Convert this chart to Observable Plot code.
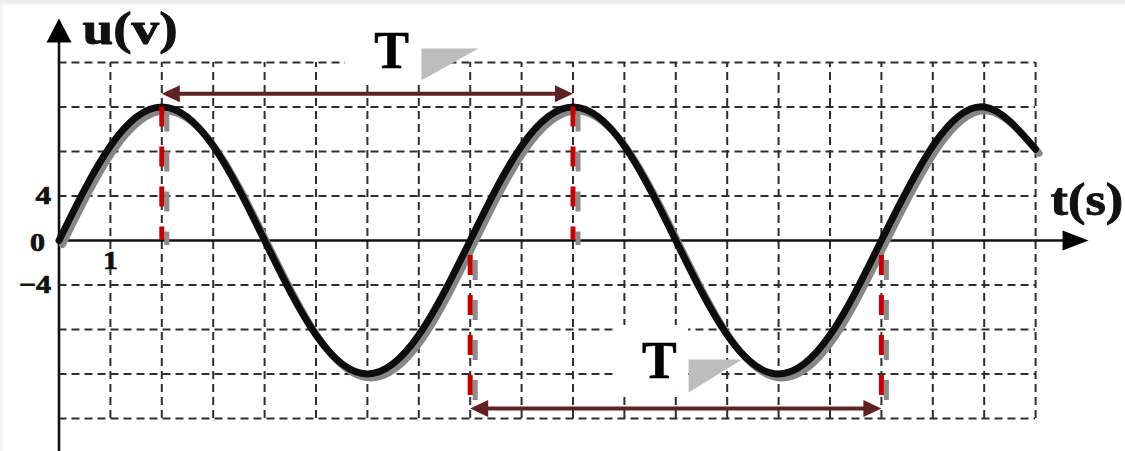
<!DOCTYPE html>
<html>
<head>
<meta charset="utf-8">
<script src="https://cdn.jsdelivr.net/npm/d3@7"></script>
<script src="https://cdn.jsdelivr.net/npm/@observablehq/plot@0.6"></script>
<style>
  html, body { margin: 0; padding: 0; background: #fff; }
  #chart svg { display: block; box-shadow: inset 0 6px 3px -2px #ececec, inset 5px 0 4px -3px #efefef; }
</style>
</head>
<body>
<div id="chart"></div>
<script>
// ---- data ----
const tSamples = [0, 1, 2, 3, 4, 5, 6, 7, 8, 9, 10, 11, 12, 13, 14, 15, 16, 17, 18, 19];
const uSamples = [0, 8.5, 12, 8.5, 0, -8.5, -12, -8.5, 0, 8.5, 12, 8.5, 0, -8.5, -12, -8.5, 0, 8.5, 12, 8.2];

const gridT = [1, 2, 3, 4, 5, 6, 7, 8, 9, 10, 11, 12, 13, 14, 15, 16, 17, 18, 19];
const gridU = [-16, -12, -8, -4, 4, 8, 12, 16];

const yTickValues = [4, -4];
const yTickLabels = ["4", "\u22124"];
const zeroLabel = ["0"];
const xTickValues = [1];
const xTickLabels = ["1"];

// period markers
const periodStart = [2, 8];
const periodEnd = [10, 16];
const periodArrowU = [13.2, -15.1];
const periodLabels = ["T", "T"];
const periodLabelT = [6.47, 11.68];
const periodLabelU = [15.55, -12.4];

// red guide lines
const guideT = [2, 10, 8, 16];
const guideFrom = [12, 12, -1.35, -1.35];
const guideTo = [0, 0, -15.1, -15.1];

// white label boxes and grey callout triangles
const boxT1 = [5.57, 10.79];
const boxT2 = [7.05, 12.25];
const boxU1 = [18.9, -7.64];
const boxU2 = [14.38, -13.66];
const triT = [[7.05, 8.16, 7.05], [12.25, 13.29, 12.25]];
const triU = [[17.26, 17.26, 14.38], [-10.7, -10.7, -13.66]];

// axes extents
const axisTEnd = 20.03;
const axisUTop = 19.95;
const axisUBottom = -19;
const axisLabels = ["u(v)", "t(s)"];
const axisLabelT = [0.457, 19.29];
const axisLabelU = [17.62, 2.25];

// ---- scale geometry ----
const W = 1125, H = 451;
const x0 = 58.5, pxT = 51.4, y0 = 240, pxU = 11.125;
const xDomain = [-x0 / pxT, (W - x0) / pxT];
const yDomain = [(y0 - H) / pxU, y0 / pxU];

const curve = tSamples.map((t, i) => ({t, u: uSamples[i]}));
const guides = guideT.map((t, i) => ({t, u1: guideFrom[i], u2: guideTo[i]}));
const boxes = boxT1.map((t, i) => ({t1: t, t2: boxT2[i], u1: boxU1[i], u2: boxU2[i]}));
const tris = triT.flatMap((ts, k) => ts.map((t, j) => ({k, t, u: triU[k][j]})));
const periods = periodStart.map((s, i) => ({t1: s, t2: periodEnd[i], u: periodArrowU[i],
  label: periodLabels[i], lt: periodLabelT[i], lu: periodLabelU[i]}));

// arrowhead polygons (length / half width in px -> data units)
const headL = 18 / pxT, headW = 8.5 / pxU;
const heads = [];
periods.forEach((p, i) => {
  heads.push({id: "a" + i, t: p.t1, u: p.u}, {id: "a" + i, t: p.t1 + headL, u: p.u + headW}, {id: "a" + i, t: p.t1 + headL, u: p.u - headW});
  heads.push({id: "b" + i, t: p.t2, u: p.u}, {id: "b" + i, t: p.t2 - headL, u: p.u + headW}, {id: "b" + i, t: p.t2 - headL, u: p.u - headW});
});
const xHeadL = 26 / pxT, xHeadW = 10 / pxU;
const yHeadL = 24 / pxU, yHeadW = 12.5 / pxT;
const axisHeads = [
  {id: "x", t: axisTEnd, u: 0}, {id: "x", t: axisTEnd - xHeadL, u: xHeadW}, {id: "x", t: axisTEnd - xHeadL, u: -xHeadW},
  {id: "y", t: 0, u: axisUTop}, {id: "y", t: -yHeadW, u: axisUTop - yHeadL}, {id: "y", t: yHeadW, u: axisUTop - yHeadL}
];

const serif = "'Liberation Serif', 'DejaVu Serif', serif";
const arrowColor = "#5e2222";
const dash = "8,5";
const labelStyle = {fontFamily: serif, fontWeight: "bold", fill: "#111", stroke: "#111", strokeWidth: 0.7};

const chart = Plot.plot({
  width: W, height: H,
  margin: 0,
  style: {background: "transparent", overflow: "visible"},
  x: {domain: xDomain, axis: null},
  y: {domain: yDomain, axis: null},
  marks: [
    // dashed grid
    Plot.ruleX(gridT, {x: d => d, y1: -16, y2: 16, stroke: "#2e2e2e", strokeWidth: 2, strokeDasharray: dash}),
    Plot.ruleY(gridU, {y: d => d, x1: 0, x2: 19, stroke: "#2e2e2e", strokeWidth: 2, strokeDasharray: dash}),
    // white boxes behind T labels
    Plot.rect(boxes, {x1: "t1", x2: "t2", y1: "u1", y2: "u2", fill: "#fff"}),
    Plot.line(tris, {x: "t", y: "u", z: "k", fill: "#bdbdbd", stroke: "none"}),
    // axes
    Plot.ruleY([0], {x1: 0, x2: axisTEnd - xHeadL + 0.05, stroke: "#111", strokeWidth: 2.6}),
    Plot.ruleX([0], {y1: axisUBottom, y2: axisUTop - yHeadL + 0.1, stroke: "#111", strokeWidth: 2.6}),
    Plot.line(axisHeads, {x: "t", y: "u", z: "id", fill: "#000", stroke: "none"}),
    // curve with shadow
    Plot.line(curve, {x: "t", y: "u", curve: "natural", stroke: "#878787", strokeWidth: 7, dx: 3.5, dy: 4}),
    Plot.line(curve, {x: "t", y: "u", curve: "natural", stroke: "#0d0d0d", strokeWidth: 7}),
    // red guides with shadow
    Plot.ruleX(guides, {x: "t", y1: "u1", y2: "u2", stroke: "#8c8c8c", strokeWidth: 5, strokeDasharray: "20,20", dx: 5, dy: 5}),
    Plot.ruleX(guides, {x: "t", y1: "u1", y2: "u2", stroke: "#c80000", strokeWidth: 5, strokeDasharray: "20,20"}),
    // period arrows
    Plot.ruleY(periods, {y: "u", x1: d => d.t1 + headL * 0.8, x2: d => d.t2 - headL * 0.8, stroke: arrowColor, strokeWidth: 4}),
    Plot.line(heads, {x: "t", y: "u", z: "id", fill: arrowColor, stroke: "none"}),
    // labels
    Plot.text(periods, {x: "lt", y: "lu", text: "label", fontFamily: serif, fontWeight: "bold", fontSize: 52, lineAnchor: "bottom", fill: "#000", stroke: "#000", strokeWidth: 0.6}),
    Plot.text(axisLabels, {x: (d, i) => axisLabelT[i], y: (d, i) => axisLabelU[i], text: d => d, textAnchor: "start", lineAnchor: "bottom", fontSize: 46, ...labelStyle, strokeWidth: 0.9}),
    Plot.text(yTickValues, {x: 0, y: d => d, text: (d, i) => yTickLabels[i], textAnchor: "end", dx: -8, fontSize: 25, ...labelStyle}),
    Plot.text(zeroLabel, {x: 0, y: 0, text: d => d, textAnchor: "end", dx: -14, dy: 2, fontSize: 25, ...labelStyle}),
    Plot.text(xTickValues, {x: d => d, y: 0, text: (d, i) => xTickLabels[i], dy: 20, fontSize: 25, ...labelStyle})
  ]
});

// horizontal stretch of the bold serif labels, as in the (widened) original
const stretch = {"u(v)": 1.2, "t(s)": 1.14, "4": 1.25, "\u22124": 1.2, "0": 1.2, "1": 1.2};
d3.select(chart).selectAll("text").each(function () {
  const k = stretch[this.textContent];
  if (!k) return;
  let tr = this.getAttribute("transform");
  if (!tr) {
    const x = +this.getAttribute("x") || 0, y = +this.getAttribute("y") || 0;
    this.removeAttribute("x"); this.removeAttribute("y");
    tr = `translate(${x},${y})`;
  }
  this.setAttribute("transform", `${tr} scale(${k},1)`);
});
document.getElementById("chart").appendChild(chart);
</script>
</body>
</html>
